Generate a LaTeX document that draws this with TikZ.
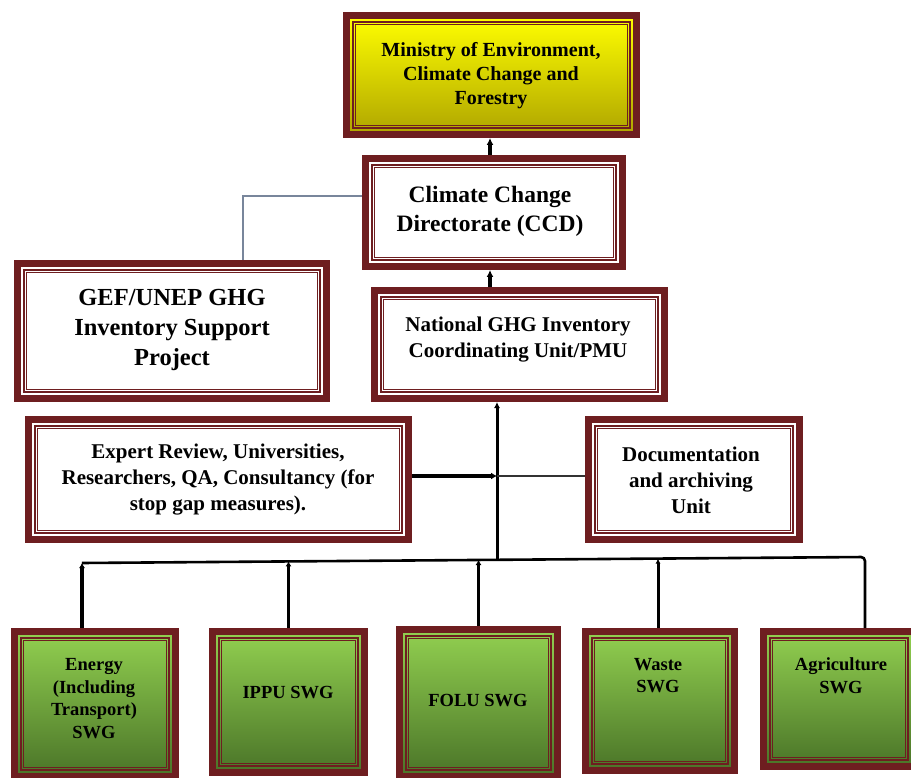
\documentclass[tikz,border=0pt]{standalone}
\usepackage{fontspec}
\setmainfont{Liberation Serif}
\usetikzlibrary{arrows.meta,calc}
\definecolor{maroon}{RGB}{110,30,32}
\definecolor{ytop}{RGB}{255,255,0}
\definecolor{ymid}{RGB}{235,230,0}
\definecolor{ybot}{RGB}{175,165,0}
\definecolor{gtop}{RGB}{146,208,80}
\definecolor{gmid}{RGB}{128,186,68}
\definecolor{gbot}{RGB}{74,116,40}
\definecolor{gefgray}{RGB}{120,134,155}
\begin{document}
\begin{tikzpicture}[x=1pt,y=-1pt,
  boxbase/.style={rectangle, draw=maroon, line width=7pt, inner sep=0pt,
    path picture={
      \draw[maroon, line width=2pt]
        ([shift={(6.5pt,-6.5pt)}]path picture bounding box.north west) rectangle
        ([shift={(-6.5pt,6.5pt)}]path picture bounding box.south east);
      \draw[maroon, line width=1pt]
        ([shift={(9.4pt,-9.4pt)}]path picture bounding box.north west) rectangle
        ([shift={(-9.4pt,9.4pt)}]path picture bounding box.south east);
    }},
  whitebox/.style={boxbase, fill=white},
  yellowbox/.style={boxbase, top color=ytop, middle color=ymid, bottom color=ybot},
  greenbox/.style={boxbase, top color=gtop, middle color=gmid, bottom color=gbot},
  txt/.style={align=center, inner sep=0pt, text=black},
  tmin/.style={txt, font=\bfseries\fontsize{20}{24}\selectfont},
  tccd/.style={txt, font=\bfseries\fontsize{23.5}{29}\selectfont},
  tgef/.style={txt, font=\bfseries\fontsize{24.5}{30}\selectfont},
  tmid/.style={txt, font=\bfseries\fontsize{21}{26}\selectfont},
  tswg/.style={txt, font=\bfseries\fontsize{18.5}{22.5}\selectfont},
  uparr/.style={-{Latex[length=7pt,width=7pt]}, line width=3.4pt, black},
  varr/.style={-{Latex[length=5pt,width=6pt]}, line width=3.8pt, black},
  varrthin/.style={-{Latex[length=5pt,width=5pt]}, line width=3pt, black},
  bus/.style={line width=2.6pt, black},
  trunk/.style={-{Latex[length=6pt,width=6pt]}, line width=3pt, black},
  expertarr/.style={-{Latex[length=6pt,width=7pt]}, line width=4.2pt, black},
  thinline/.style={line width=1.2pt, black!80},
  gefline/.style={line width=1.8pt, gefgray}
]
\useasboundingbox (0,0) rectangle (911,778);

% boxes
\node[yellowbox, minimum width=290pt, minimum height=119pt] (ministry) at (491.5,75) {};
\node[whitebox, minimum width=257pt, minimum height=108pt] (ccd) at (494,212.5) {};
\node[whitebox, minimum width=309pt, minimum height=135pt] (gef) at (172,331) {};
\node[whitebox, minimum width=290pt, minimum height=108pt] (national) at (519.5,344.5) {};
\node[whitebox, minimum width=380pt, minimum height=120pt] (expert) at (218.5,479.5) {};
\node[whitebox, minimum width=211pt, minimum height=120pt] (doc) at (694,479.5) {};
\node[greenbox, minimum width=161pt, minimum height=145pt] (energy) at (95,704) {};
\node[greenbox, minimum width=152pt, minimum height=141pt] (ippu) at (288.5,702) {};
\node[greenbox, minimum width=158pt, minimum height=147pt] (folu) at (478.5,703) {};
\node[greenbox, minimum width=149pt, minimum height=139pt] (waste) at (660,701) {};
\node[greenbox, minimum width=151pt, minimum height=135pt] (agri) at (839,699) {};

% texts
\node[tmin] (tministry) at (491,76) {Ministry of Environment,\\Climate Change and\\Forestry};
\node[tccd] (tccdt) at (490,211.5) {Climate Change\\Directorate (CCD)};
\node[tgef] (tgeft) at (172,330) {GEF/UNEP GHG\\Inventory Support\\Project};
\node[tmid] (tnational) at (518,339.5) {National GHG Inventory\\Coordinating Unit/PMU};
\node[tmid] (texpert) at (218,480) {Expert Review, Universities,\\Researchers, QA, Consultancy (for\\stop gap measures).};
\node[tmid] (tdoc) at (691,480) {Documentation\\and archiving\\Unit};
\node[tswg] (tenergy) at (94,698.5) {Energy\\(Including\\Transport)\\SWG};
\node[tswg] (tippu) at (288,693) {IPPU SWG};
\node[tswg] (tfolu) at (478,701) {FOLU SWG};
\node[tswg] (twaste) at (658,675.5) {Waste\\SWG};
\node[tswg] (tagri) at (841,675.5) {Agriculture\\SWG};

% coordinates on the bus and trunk
\coordinate (b1) at (82,563);
\coordinate (b2) at (288.5,561.4);
\coordinate (b3) at (478.5,560);
\coordinate (b4) at (658,558.6);
\coordinate (b5) at (865,557);
\coordinate (bT) at (497,559.8);
\coordinate (jE) at (497,476);

% connectors
\draw[uparr] ([xshift=-4pt]ccd.north) -- ([xshift=-1.5pt]ministry.south);
\draw[uparr] ([xshift=-29.5pt]national.north) -- ([xshift=-4pt]ccd.south);
\draw[gefline] ([xshift=71pt]gef.north) |- ([yshift=16.5pt]ccd.west);
\draw[trunk] (bT) -- ([xshift=-22.5pt]national.south);
\draw[expertarr] ([yshift=3.5pt]expert.east) -- (jE);
\draw[thinline] (jE) -- ([yshift=3.5pt]doc.west);
\draw[bus, rounded corners=4pt] (b1) -- (b5) -- ([xshift=26pt]agri.north);
\draw[varr] ([xshift=-13pt]energy.north) -- (b1);
\draw[varr] (ippu.north) -- (b2);
\draw[varr] (folu.north) -- (b3);
\draw[varrthin] ([xshift=-2pt]waste.north) -- (b4);
\end{tikzpicture}
\end{document}
